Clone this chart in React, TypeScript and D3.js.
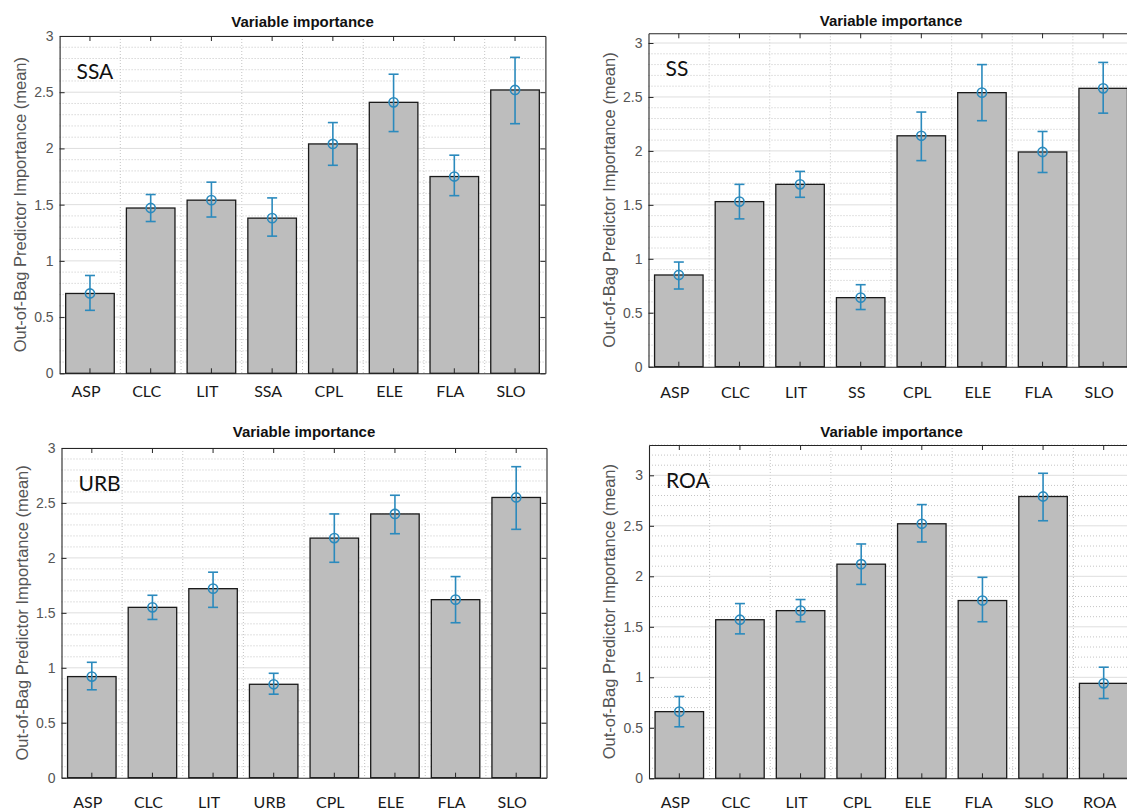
import React, { useEffect, useRef } from "react"
import * as d3 from "d3"

const W = 1127
const H = 812

// panel names (text in upper-left corner of each axes)
const panelNames = ["SSA", "SS", "URB", "ROA"]

// categories per panel
const catsSSA = ["ASP", "CLC", "LIT", "SSA", "CPL", "ELE", "FLA", "SLO"]
const catsSS = ["ASP", "CLC", "LIT", "SS", "CPL", "ELE", "FLA", "SLO"]
const catsURB = ["ASP", "CLC", "LIT", "URB", "CPL", "ELE", "FLA", "SLO"]
const catsROA = ["ASP", "CLC", "LIT", "CPL", "ELE", "FLA", "SLO", "ROA"]

// mean importance + error bar ends
const meanSSA = [0.71, 1.47, 1.54, 1.38, 2.04, 2.41, 1.75, 2.52]
const lowSSA = [0.56, 1.35, 1.39, 1.22, 1.85, 2.15, 1.58, 2.22]
const highSSA = [0.87, 1.59, 1.70, 1.56, 2.23, 2.66, 1.94, 2.81]

const meanSS = [0.85, 1.53, 1.69, 0.64, 2.14, 2.54, 1.99, 2.58]
const lowSS = [0.72, 1.37, 1.57, 0.53, 1.91, 2.28, 1.80, 2.35]
const highSS = [0.97, 1.69, 1.81, 0.76, 2.36, 2.80, 2.18, 2.82]

const meanURB = [0.92, 1.55, 1.72, 0.85, 2.18, 2.40, 1.62, 2.55]
const lowURB = [0.80, 1.44, 1.55, 0.76, 1.96, 2.22, 1.41, 2.26]
const highURB = [1.05, 1.66, 1.87, 0.95, 2.40, 2.57, 1.83, 2.83]

const meanROA = [0.66, 1.57, 1.66, 2.12, 2.52, 1.76, 2.79, 0.94]
const lowROA = [0.51, 1.43, 1.55, 1.92, 2.34, 1.55, 2.55, 0.79]
const highROA = [0.81, 1.73, 1.77, 2.32, 2.71, 1.99, 3.02, 1.10]

const yTickLabels = ["0", "0.5", "1", "1.5", "2", "2.5", "3"]

const panels = [
  { name: panelNames[0], cats: catsSSA, mean: meanSSA, low: lowSSA, high: highSSA },
  { name: panelNames[1], cats: catsSS, mean: meanSS, low: lowSS, high: highSS },
  { name: panelNames[2], cats: catsURB, mean: meanURB, low: lowURB, high: highURB },
  { name: panelNames[3], cats: catsROA, mean: meanROA, low: lowROA, high: highROA },
]

// axes boxes in page pixels
const layout = [
  { left: 59.6, right: 545.4, top: 36, bottom: 373.3, yMax: 3.0, titleY: 26.5, labelY: 397 },
  { left: 648.5, right: 1133.5, top: 33.3, bottom: 366.7, yMax: 3.09, titleY: 25.7, labelY: 398 },
  { left: 61.5, right: 546.5, top: 448, bottom: 777.7, yMax: 3.0, titleY: 436.7, labelY: 807.5 },
  { left: 649, right: 1134, top: 445, bottom: 778.3, yMax: 3.3, titleY: 436.7, labelY: 807.5 },
]

const errColor = "#2b8abd"
const axisColor = "#262626"
const sans = "'Liberation Sans', Arial, sans-serif"
const calibri = "Lato, 'Open Sans', sans-serif"

export default function App() {
  const svgRef = useRef<SVGSVGElement>(null)

  useEffect(() => {
    const svg = d3.select(svgRef.current)
    svg.selectAll("*").remove()

    panels.forEach((p, k) => {
      const L = layout[k]
      const g = svg.append("g")

      const x = d3.scaleBand<string>()
        .domain(p.cats)
        .range([L.left, L.right])
        .paddingInner(0.2)
        .paddingOuter(0.1)
      const y = d3.scaleLinear().domain([0, L.yMax]).range([L.bottom, L.top])
      const cx = (c: string) => (x(c) as number) + x.bandwidth() / 2

      const majors = yTickLabels.map(Number).filter(v => v <= L.yMax + 1e-9)
      const minors = d3.range(1, Math.floor(L.yMax * 10 + 1e-6) + 1)
        .map(i => i / 10)
        .filter(v => Math.abs(v * 2 - Math.round(v * 2)) > 1e-6)

      // minor grid (dotted)
      g.append("g").selectAll("line").data(minors).join("line")
        .attr("x1", L.left).attr("x2", L.right)
        .attr("y1", d => y(d)).attr("y2", d => y(d))
        .attr("stroke", "#c4c4c4").attr("stroke-width", 1)
        .attr("stroke-dasharray", "1,2")
      g.append("g").selectAll("line").data(p.cats.slice(0, -1)).join("line")
        .attr("x1", d => cx(d) + x.step() / 2).attr("x2", d => cx(d) + x.step() / 2)
        .attr("y1", L.top).attr("y2", L.bottom)
        .attr("stroke", "#c4c4c4").attr("stroke-width", 1)
        .attr("stroke-dasharray", "1,2")

      // major grid
      g.append("g").selectAll("line").data(majors.filter(v => v > 0)).join("line")
        .attr("x1", L.left).attr("x2", L.right)
        .attr("y1", d => y(d)).attr("y2", d => y(d))
        .attr("stroke", "#dedede").attr("stroke-width", 1)

      // bars
      g.append("g").selectAll("rect").data(p.mean).join("rect")
        .attr("x", (d, i) => x(p.cats[i]) as number)
        .attr("width", x.bandwidth())
        .attr("y", d => y(d))
        .attr("height", d => y(0) - y(d))
        .attr("fill", "#bdbdbd")
        .attr("stroke", "#1a1a1a")
        .attr("stroke-width", 1.3)

      // axes (box with inward ticks)
      const left = d3.axisLeft(y).tickValues(majors).tickSize(-5).tickSizeOuter(0).tickPadding(6)
        .tickFormat((d, i) => yTickLabels[i])
      const right = d3.axisRight(y).tickValues(majors).tickSize(-5).tickSizeOuter(0).tickFormat(() => "")
      const bottom = d3.axisBottom(x).tickSize(-5).tickSizeOuter(0).tickFormat(() => "")
      const top = d3.axisTop(x).tickSize(-5).tickSizeOuter(0).tickFormat(() => "")

      const style = (sel: any) => {
        sel.select(".domain").attr("stroke", axisColor).attr("stroke-width", 1.1)
        sel.selectAll(".tick line").attr("stroke", axisColor).attr("stroke-width", 1)
      }
      g.append("g").attr("transform", `translate(${L.left},0)`).call(left).call(style)
        .selectAll("text").attr("font-family", sans).attr("font-size", 14).attr("fill", "#555")
      g.append("g").attr("transform", `translate(${L.right},0)`).call(right).call(style)
      g.append("g").attr("transform", `translate(0,${L.bottom})`).call(bottom).call(style)
      g.append("g").attr("transform", `translate(0,${L.top})`).call(top).call(style)
      g.selectAll(".tick text").attr("font-family", sans)

      // error bars
      const eb = g.append("g").attr("stroke", errColor).attr("stroke-width", 1.6).attr("fill", "none")
      p.cats.forEach((c, i) => {
        const xc = cx(c)
        eb.append("line").attr("x1", xc).attr("x2", xc).attr("y1", y(p.low[i])).attr("y2", y(p.high[i]))
        eb.append("line").attr("x1", xc - 5).attr("x2", xc + 5).attr("y1", y(p.low[i])).attr("y2", y(p.low[i]))
        eb.append("line").attr("x1", xc - 5).attr("x2", xc + 5).attr("y1", y(p.high[i])).attr("y2", y(p.high[i]))
        eb.append("circle").attr("cx", xc).attr("cy", y(p.mean[i])).attr("r", 4.6)
      })

      // category labels
      g.append("g").selectAll("text").data(p.cats).join("text")
        .attr("x", d => cx(d) - 4)
        .attr("y", L.labelY)
        .attr("text-anchor", "middle")
        .attr("font-family", calibri)
        .attr("font-size", 16)
        .attr("fill", "#1a1a1a")
        .text(d => d)

      // title
      g.append("text")
        .attr("x", (L.left + L.right) / 2)
        .attr("y", L.titleY)
        .attr("text-anchor", "middle")
        .attr("font-family", sans)
        .attr("font-weight", "bold")
        .attr("font-size", 15)
        .attr("fill", "#111")
        .text("Variable importance")

      // y label
      g.append("text")
        .attr("transform", `translate(${L.left - 34},${(L.top + L.bottom) / 2}) rotate(-90)`)
        .attr("text-anchor", "middle")
        .attr("font-family", sans)
        .attr("font-size", 16.5)
        .attr("fill", "#555")
        .text("Out-of-Bag Predictor Importance (mean)")

      // panel name
      g.append("text")
        .attr("x", L.left + 17)
        .attr("y", L.top + 43)
        .attr("font-family", calibri)
        .attr("font-size", 21)
        .attr("fill", "#111")
        .text(p.name)
    })
  }, [])

  return (
    <svg ref={svgRef} width={W} height={H}
      style={{ position: "absolute", left: 0, top: 0, background: "#fff" }} />
  )
}
